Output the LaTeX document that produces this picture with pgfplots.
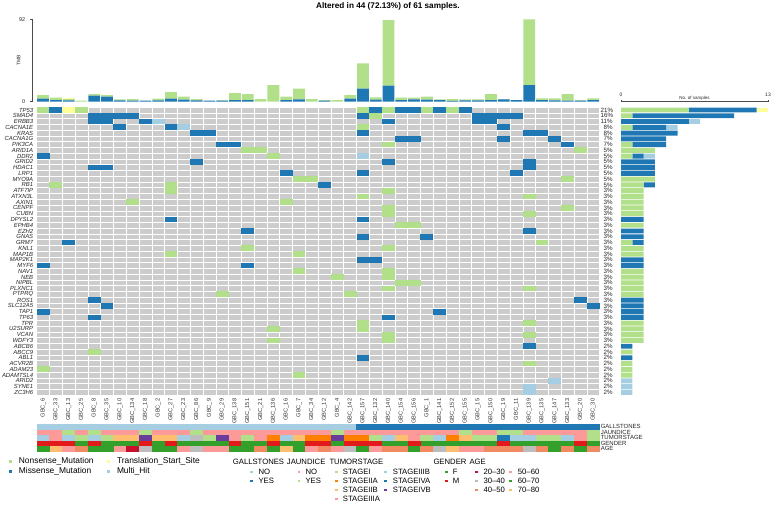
\documentclass[border=0pt]{standalone}
\usepackage{pgfplots}
\pgfplotsset{compat=1.18}
\usepackage{pgfplotstable}
\usepackage{fontspec}
\setmainfont{Liberation Sans}

\definecolor{ongrey}{HTML}{CCCCCC}
\definecolor{nons}{HTML}{B2DF8A}
\definecolor{mis}{HTML}{1F78B4}
\definecolor{tss}{HTML}{FFFF99}
\definecolor{mhit}{HTML}{A6CEE3}
\definecolor{pinkc}{HTML}{FB9A99}
\definecolor{orangec}{HTML}{FF7F00}
\definecolor{lorange}{HTML}{FDBF6F}
\definecolor{purplec}{HTML}{6A3D9A}
\definecolor{greyc}{HTML}{BDBDBD}
\definecolor{greenc}{HTML}{33A02C}
\definecolor{redc}{HTML}{E31A1C}
\definecolor{darkred}{HTML}{C8102E}
\definecolor{salmon}{HTML}{EF8A62}

\pgfdeclareplotmark{gcell}{\pgfpathrectangle{\pgfpoint{-6.42pt}{-2.89pt}}{\pgfpoint{12.84pt}{5.78pt}}\pgfusepathqfill}
\pgfdeclareplotmark{acell}{\pgfpathrectangle{\pgfpoint{-6.45pt}{-2.8pt}}{\pgfpoint{12.9pt}{5.6pt}}\pgfusepathqfill}

\pgfplotstableread{
x B G Y
0.5 3.4 4.1 0
1.5 1.9 2.6 0
2.5 1.5 1.5 1.5
3.5 0 1.1 0
4.5 6.7 1.9 0
5.5 5.6 1.9 0
6.5 1.5 1.1 0
7.5 1.1 1.9 0
8.5 1.1 0 0
9.5 1.5 1.9 0
10.5 3.4 7.4 0
11.5 2.2 3.4 0
12.5 1.5 1.5 0
13.5 1.1 0 0
14.5 1.1 0.8 0
15.5 1.9 7.8 0
16.5 1.9 6.7 0
17.5 0 3 0
18.5 0 18.7 0
19.5 1.9 3.7 0
20.5 2.6 12 0
21.5 0 3 0
22.5 1.1 0.8 0
23.5 0 1.9 0
24.5 3.4 4.1 0
25.5 14.6 28.4 0
26.5 2.2 2.7 0
27.5 18 73.6 0
28.5 1.9 2.6 0
29.5 2.6 1.9 0
30.5 2.2 3.4 0
31.5 1.9 0.7 0
32.5 0.8 2.2 0
33.5 1.5 1.1 0
34.5 1.5 1.1 0
35.5 1.9 6.7 0
36.5 2.6 0.4 0
37.5 1.9 0 0
38.5 18.7 73.7 0
39.5 1.9 1.8 0
40.5 1.5 2.2 0
41.5 1.1 7.5 0
42.5 1.1 0.8 0
43.5 1.9 1.8 0
}\tmbtab

\pgfplotstableread{
y N M T H
49.5 6 6 1 0
48.5 1 9 0 0
47.5 0 6 0 1
46.5 1 3 0 1
45.5 0 5 0 0
44.5 0 4 0 0
43.5 1 3 0 0
42.5 3 0 0 0
41.5 1 1 0 1
40.5 0 3 0 0
39.5 0 3 0 0
38.5 0 3 0 0
37.5 3 0 0 0
36.5 2 1 0 0
35.5 2 0 0 0
34.5 2 0 0 0
33.5 2 0 0 0
32.5 2 0 0 0
31.5 2 0 0 0
30.5 0 2 0 0
29.5 2 0 0 0
28.5 0 2 0 0
27.5 0 2 0 0
26.5 1 1 0 0
25.5 2 0 0 0
24.5 2 0 0 0
23.5 0 2 0 0
22.5 0 2 0 0
21.5 2 0 0 0
20.5 2 0 0 0
19.5 2 0 0 0
18.5 2 0 0 0
17.5 2 0 0 0
16.5 0 2 0 0
15.5 0 2 0 0
14.5 0 2 0 0
13.5 0 2 0 0
12.5 2 0 0 0
11.5 2 0 0 0
10.5 2 0 0 0
9.5 2 0 0 0
8.5 0 1 0 0
7.5 1 0 0 0
6.5 0 1 0 0
5.5 1 0 0 0
4.5 1 0 0 0
3.5 1 0 0 0
2.5 0 0 0 1
1.5 0 0 0 1
0.5 0 0 0 1
}\bartab

\begin{document}
\begin{tikzpicture}
\path[use as bounding box] (0pt,0pt) rectangle (775pt,504pt);

\node[font=\bfseries\fontsize{8.2}{9}\selectfont] at (388pt,497.5pt) {Altered in 44 (72.13\%) of 61 samples.};

% ---------- main oncoplot grid ----------
\begin{axis}[
  at={(36.7pt,108.8pt)}, anchor=south west, scale only axis,
  width=562.9pt, height=288.1pt,
  xmin=0, xmax=44, ymin=0, ymax=50,
  axis background/.style={fill=ongrey},
  axis line style={draw=none},
  axis on top,
  xtick={0.5,1.5,...,43.5},
  xticklabels={GBC\_6,GBC\_33,GBC\_13,GBC\_25,GBC\_8,GBC\_35,GBC\_10,GBC\_134,GBC\_18,GBC\_2,GBC\_27,GBC\_23,GBC\_86,GBC\_9,GBC\_29,GBC\_138,GBC\_151,GBC\_21,GBC\_136,GBC\_16,GBC\_7,GBC\_34,GBC\_12,GBC\_4,GBC\_142,GBC\_157,GBC\_132,GBC\_140,GBC\_154,GBC\_156,GBC\_1,GBC\_141,GBC\_152,GBC\_155,GBC\_15,GBC\_150,GBC\_19,GBC\_11,GBC\_139,GBC\_135,GBC\_147,GBC\_133,GBC\_20,GBC\_30},
  xticklabel style={rotate=90, anchor=east, font=\fontsize{5.7}{6}\selectfont, text=black!80},
  ytick={0.5,1.5,...,49.5},
  yticklabels={ZC3H6,SYNE1,ARID2,ADAMTSL4,ADAM23,ACVR2B,ABL1,ABCC9,ABCB6,WDFY3,VCAN,U2SURP,TPR,TP63,TAP1,SLC12A5,ROS1,PTPRQ,PLXNC1,NIPBL,NEB,NAV1,MYF6,MAP2K1,MAP1B,KNL1,GRM7,GNAS,EZH2,EPHB4,DPYSL2,CUBN,CENPF,AXIN1,ATXN3L,ATF7IP,RB1,MYO9A,LRP1,HDAC1,GRID2,DDR2,ARID1A,PIK3CA,CACNA1G,KRAS,CACNA1E,ERBB3,SMAD4,TP53},
  yticklabel style={font=\fontsize{5.9}{6}\selectfont\itshape, text=black!85},
  minor xtick={0,1,...,44}, minor ytick={0,1,...,50},
  xminorgrids, yminorgrids,
  minor grid style={white, line width=0.6pt},
  major tick length=0pt, minor tick length=0pt,
]
% Nonsense_Mutation
\addplot[only marks, mark=gcell, nons] coordinates {
(0.5,49.5)(3.5,49.5)(25.5,49.5)(27.5,49.5)(30.5,49.5)(32.5,49.5)
(26.5,48.5)(25.5,46.5)(27.5,43.5)
(16.5,42.5)(17.5,42.5)(42.5,42.5)
(18.5,41.5)
(20.5,37.5)(21.5,37.5)(41.5,37.5)
(1.5,36.5)(10.5,36.5)
(10.5,35.5)(27.5,35.5)
(25.5,34.5)(38.5,34.5)
(7.5,33.5)(19.5,33.5)
(27.5,32.5)(41.5,32.5)
(27.5,31.5)(38.5,31.5)
(28.5,29.5)(29.5,29.5)
(39.5,26.5)
(16.5,25.5)(27.5,25.5)
(10.5,24.5)(20.5,24.5)
(20.5,21.5)(27.5,21.5)
(23.5,20.5)(27.5,20.5)
(28.5,19.5)(29.5,19.5)
(27.5,18.5)(38.5,18.5)
(14.5,17.5)(24.5,17.5)
(25.5,12.5)(38.5,12.5)
(18.5,11.5)(25.5,11.5)
(27.5,10.5)(38.5,10.5)
(18.5,9.5)(27.5,9.5)
(4.5,7.5)(38.5,5.5)(0.5,4.5)(20.5,3.5)
};
% Missense_Mutation
\addplot[only marks, mark=gcell, mis] coordinates {
(1.5,49.5)(26.5,49.5)(28.5,49.5)(29.5,49.5)(31.5,49.5)(33.5,49.5)
(4.5,48.5)(5.5,48.5)(6.5,48.5)(7.5,48.5)(25.5,48.5)(34.5,48.5)(35.5,48.5)(36.5,48.5)(37.5,48.5)
(4.5,47.5)(5.5,47.5)(8.5,47.5)(27.5,47.5)(34.5,47.5)(35.5,47.5)
(6.5,46.5)(10.5,46.5)(36.5,46.5)
(12.5,45.5)(13.5,45.5)(25.5,45.5)(38.5,45.5)(39.5,45.5)
(28.5,44.5)(29.5,44.5)(36.5,44.5)(40.5,44.5)
(14.5,43.5)(15.5,43.5)(41.5,43.5)
(0.5,41.5)
(12.5,40.5)(27.5,40.5)(38.5,40.5)
(4.5,39.5)(5.5,39.5)(38.5,39.5)
(19.5,38.5)(25.5,38.5)(37.5,38.5)
(22.5,36.5)
(10.5,30.5)(25.5,30.5)
(16.5,28.5)(38.5,28.5)
(25.5,27.5)(30.5,27.5)
(2.5,26.5)
(25.5,23.5)(26.5,23.5)
(0.5,22.5)(16.5,22.5)
(4.5,16.5)(42.5,16.5)
(5.5,15.5)(43.5,15.5)
(0.5,14.5)(31.5,14.5)
(4.5,13.5)(27.5,13.5)
(38.5,8.5)(25.5,6.5)
};
% Multi_Hit
\addplot[only marks, mark=gcell, mhit] coordinates {
(9.5,47.5)(11.5,46.5)(25.5,41.5)(40.5,2.5)(38.5,1.5)(38.5,0.5)
};
% Translation_Start_Site
\addplot[only marks, mark=gcell, tss] coordinates {(2.5,49.5)};
\end{axis}

% ---------- percentages ----------
\begin{axis}[
  at={(36.7pt,108.8pt)}, anchor=south west, scale only axis,
  width=562.9pt, height=288.1pt,
  xmin=0, xmax=44, ymin=0, ymax=50,
  axis line style={draw=none}, xtick=\empty,
  major tick length=0pt,
  yticklabel pos=right,
  ytick={0.5,1.5,...,49.5},
  yticklabels={2\%,2\%,2\%,2\%,2\%,2\%,2\%,2\%,2\%,3\%,3\%,3\%,3\%,3\%,3\%,3\%,3\%,3\%,3\%,3\%,3\%,3\%,3\%,3\%,3\%,3\%,3\%,3\%,3\%,3\%,3\%,3\%,3\%,3\%,3\%,3\%,5\%,5\%,5\%,5\%,5\%,5\%,5\%,7\%,7\%,8\%,8\%,11\%,16\%,21\%},
  yticklabel style={anchor=west, text width=12pt, align=right, inner xsep=0.8pt, font=\fontsize{6.2}{6.5}\selectfont, text=black!85},
]
\end{axis}

% ---------- TMB bars ----------
\begin{axis}[
  at={(32.7pt,402.3pt)}, anchor=south west, scale only axis,
  width=566.9pt, height=82pt,
  xmin=-0.3127, xmax=44, ymin=0, ymax=92,
  ybar stacked, bar width=0.92,
  axis x line=none, axis y line*=left,
  axis line style={-, black!70, line width=0.5pt},
  ytick={0,92}, tick align=outside, major tick length=2.5pt,
  tick style={black!70, line width=0.5pt},
  yticklabel style={font=\fontsize{5.5}{6}\selectfont, xshift=-1.5pt, text=black!85},
  /pgf/number format/assume math mode=true,
  ylabel={TMB},
  ylabel style={at={(axis description cs:-0.0247,0.5)}, anchor=center, font=\fontsize{5}{6}\selectfont, text=black!85},
]
\addplot[fill=mis, draw=none] table[x=x, y=B] {\tmbtab};
\addplot[fill=nons, draw=none] table[x=x, y=G] {\tmbtab};
\addplot[fill=tss, draw=none] table[x=x, y=Y] {\tmbtab};
\end{axis}

% ---------- right bar chart ----------
\begin{axis}[
  at={(621pt,108.8pt)}, anchor=south west, scale only axis,
  width=147pt, height=293.5pt,
  xmin=0, xmax=13, ymin=0, ymax=50.94,
  xbar stacked, bar width=0.86,
  axis x line*=top, axis y line=none,
  axis line style={-, black!70, line width=0.5pt},
  xtick={0,13}, ytick=\empty,
  tick align=outside, major tick length=2pt,
  tick style={black!70, line width=0.5pt},
  xticklabel style={font=\fontsize{5}{6}\selectfont, text=black!85},
  /pgf/number format/assume math mode=true,
  xlabel={No. of samples},
  xlabel style={at={(axis description cs:0.5,1)}, anchor=south, font=\fontsize{4.5}{5}\selectfont, inner sep=0.8pt, text=black!85},
]
\addplot[fill=nons, draw=none] table[x=N, y=y] {\bartab};
\addplot[fill=mis, draw=none] table[x=M, y=y] {\bartab};
\addplot[fill=tss, draw=none] table[x=T, y=y] {\bartab};
\addplot[fill=mhit, draw=none] table[x=H, y=y] {\bartab};
\end{axis}

% ---------- annotation tracks ----------
\begin{axis}[
  at={(36.7pt,52.3pt)}, anchor=south west, scale only axis,
  width=562.9pt, height=27.7pt,
  xmin=0, xmax=44, ymin=0, ymax=5,
  axis line style={draw=none}, xtick=\empty,
  major tick length=0pt,
  yticklabel pos=right,
  ytick={0.5,1.5,2.5,3.5,4.5},
  yticklabels={AGE,GENDER,TUMORSTAGE,JAUNDICE,GALLSTONES},
  yticklabel style={anchor=west, inner xsep=1pt, font=\fontsize{6}{6}\selectfont, text=black!85},
]
\addplot[only marks, mark=acell, mhit] coordinates {
(0.5,4.5)(1.5,4.5)(2.5,4.5)(3.5,4.5)(4.5,4.5)(5.5,4.5)(6.5,4.5)(7.5,4.5)(8.5,4.5)(9.5,4.5)(10.5,4.5)(11.5,4.5)(12.5,4.5)(13.5,4.5)(14.5,4.5)(15.5,4.5)(16.5,4.5)(17.5,4.5)(18.5,4.5)(19.5,4.5)(20.5,4.5)(21.5,4.5)(22.5,4.5)(23.5,4.5)(24.5,4.5)
(0.5,2.5)(2.5,2.5)(4.5,2.5)(11.5,2.5)(19.5,2.5)(27.5,2.5)(31.5,2.5)(37.5,2.5)(38.5,2.5)(41.5,2.5)
};
\addplot[only marks, mark=acell, mis] coordinates {
(25.5,4.5)(26.5,4.5)(27.5,4.5)(28.5,4.5)(29.5,4.5)(30.5,4.5)(31.5,4.5)(32.5,4.5)(33.5,4.5)(34.5,4.5)(35.5,4.5)(36.5,4.5)(37.5,4.5)(38.5,4.5)(39.5,4.5)(40.5,4.5)(41.5,4.5)(42.5,4.5)(43.5,4.5)
(36.5,2.5)
};
\addplot[only marks, mark=acell, pinkc] coordinates {
(0.5,3.5)(1.5,3.5)(3.5,3.5)(5.5,3.5)(6.5,3.5)(7.5,3.5)(9.5,3.5)(10.5,3.5)(11.5,3.5)(13.5,3.5)(14.5,3.5)(15.5,3.5)(16.5,3.5)(17.5,3.5)(18.5,3.5)(19.5,3.5)(20.5,3.5)(21.5,3.5)(22.5,3.5)(24.5,3.5)(25.5,3.5)(26.5,3.5)(27.5,3.5)(28.5,3.5)(29.5,3.5)(30.5,3.5)(31.5,3.5)(32.5,3.5)(34.5,3.5)(35.5,3.5)(38.5,3.5)(39.5,3.5)(40.5,3.5)(41.5,3.5)(42.5,3.5)
(1.5,2.5)(15.5,2.5)(17.5,2.5)(29.5,2.5)(42.5,2.5)
(2.5,0.5)(6.5,0.5)(11.5,0.5)(13.5,0.5)(14.5,0.5)(21.5,0.5)(23.5,0.5)(26.5,0.5)(33.5,0.5)(34.5,0.5)
};
\addplot[only marks, mark=acell, nons] coordinates {
(2.5,3.5)(4.5,3.5)(8.5,3.5)(12.5,3.5)(23.5,3.5)(33.5,3.5)(36.5,3.5)(37.5,3.5)(43.5,3.5)
(3.5,2.5)(5.5,2.5)(13.5,2.5)(16.5,2.5)(26.5,2.5)(30.5,2.5)(34.5,2.5)(35.5,2.5)(39.5,2.5)(40.5,2.5)(43.5,2.5)
};
\addplot[only marks, mark=acell, orangec] coordinates {
(18.5,2.5)(21.5,2.5)(22.5,2.5)(24.5,2.5)(25.5,2.5)(32.5,2.5)
};
\addplot[only marks, mark=acell, lorange] coordinates {
(6.5,2.5)(7.5,2.5)(9.5,2.5)(10.5,2.5)(20.5,2.5)(28.5,2.5)(33.5,2.5)
(1.5,0.5)(19.5,0.5)(32.5,0.5)
};
\addplot[only marks, mark=acell, purplec] coordinates {
(8.5,2.5)(14.5,2.5)(23.5,2.5)
};
\addplot[only marks, mark=acell, greyc] coordinates {
(12.5,2.5)
(8.5,0.5)(12.5,0.5)(24.5,0.5)(31.5,0.5)(38.5,0.5)
};
\addplot[only marks, mark=acell, greenc] coordinates {
(3.5,1.5)(5.5,1.5)(6.5,1.5)(7.5,1.5)(9.5,1.5)(11.5,1.5)(12.5,1.5)(13.5,1.5)(14.5,1.5)(16.5,1.5)(17.5,1.5)(19.5,1.5)(20.5,1.5)(23.5,1.5)(27.5,1.5)(28.5,1.5)(30.5,1.5)(31.5,1.5)(32.5,1.5)(33.5,1.5)(34.5,1.5)(35.5,1.5)(37.5,1.5)(38.5,1.5)(39.5,1.5)(40.5,1.5)(41.5,1.5)(43.5,1.5)
(0.5,0.5)(4.5,0.5)(5.5,0.5)(9.5,0.5)(10.5,0.5)(15.5,0.5)(16.5,0.5)(18.5,0.5)(20.5,0.5)(25.5,0.5)(29.5,0.5)(40.5,0.5)(42.5,0.5)
};
\addplot[only marks, mark=acell, redc] coordinates {
(0.5,1.5)(1.5,1.5)(2.5,1.5)(4.5,1.5)(8.5,1.5)(10.5,1.5)(15.5,1.5)(18.5,1.5)(21.5,1.5)(22.5,1.5)(24.5,1.5)(25.5,1.5)(26.5,1.5)(29.5,1.5)(36.5,1.5)(42.5,1.5)
};
\addplot[only marks, mark=acell, darkred] coordinates {(7.5,0.5)};
\addplot[only marks, mark=acell, salmon] coordinates {
(3.5,0.5)(17.5,0.5)(22.5,0.5)(27.5,0.5)(28.5,0.5)(30.5,0.5)(35.5,0.5)(36.5,0.5)(37.5,0.5)(39.5,0.5)(41.5,0.5)(43.5,0.5)
};
\end{axis}

% ---------- legends ----------
\begin{scope}[every node/.style={inner sep=0pt}]
\begin{scope}[font=\fontsize{8.4}{9}\selectfont]
\node[fill=nons, minimum size=3.3pt] at (10.7pt,42.3pt) {};
\node[anchor=west] at (18.7pt,42.3pt) {Nonsense\_Mutation};
\node[fill=mis, minimum size=3.3pt] at (10.7pt,32.3pt) {};
\node[anchor=west] at (18.7pt,32.3pt) {Missense\_Mutation};
\node[fill=tss, minimum size=3.3pt] at (108.8pt,42.3pt) {};
\node[anchor=west] at (116.8pt,42.3pt) {Translation\_Start\_Site};
\node[fill=mhit, minimum size=3.3pt] at (108.8pt,32.3pt) {};
\node[anchor=west] at (116.8pt,32.3pt) {Multi\_Hit};
\end{scope}
\begin{scope}[font=\fontsize{7.7}{8}\selectfont]
\node[anchor=west] at (232.7pt,42.5pt) {GALLSTONES};
\node[anchor=west] at (286.7pt,42.5pt) {JAUNDICE};
\node[anchor=west] at (329.3pt,42.5pt) {TUMORSTAGE};
\node[anchor=west] at (433.3pt,42.5pt) {GENDER};
\node[anchor=west] at (469.3pt,42.5pt) {AGE};
% gallstones
\node[fill=mhit, minimum size=2.7pt] at (251.3pt,32pt) {};
\node[anchor=west] at (258.3pt,32pt) {NO};
\node[fill=mis, minimum size=2.7pt] at (251.3pt,23pt) {};
\node[anchor=west] at (258.3pt,23pt) {YES};
% jaundice
\node[fill=pinkc, minimum size=2.7pt] at (299pt,32pt) {};
\node[anchor=west] at (305.3pt,32pt) {NO};
\node[fill=nons, minimum size=2.7pt] at (299pt,23pt) {};
\node[anchor=west] at (305.3pt,23pt) {YES};
% tumor stage
\node[fill=nons, minimum size=2.7pt] at (336.5pt,32pt) {};
\node[anchor=west] at (342.7pt,32pt) {STAGEI};
\node[fill=orangec, minimum size=2.7pt] at (336.5pt,23pt) {};
\node[anchor=west] at (342.7pt,23pt) {STAGEIIA};
\node[fill=lorange, minimum size=2.7pt] at (336.5pt,14pt) {};
\node[anchor=west] at (342.7pt,14pt) {STAGEIIB};
\node[fill=pinkc, minimum size=2.7pt] at (336.5pt,5pt) {};
\node[anchor=west] at (342.7pt,5pt) {STAGEIIIA};
\node[fill=mhit, minimum size=2.7pt] at (385.5pt,32pt) {};
\node[anchor=west] at (392.7pt,32pt) {STAGEIIIB};
\node[fill=mis, minimum size=2.7pt] at (385.5pt,23pt) {};
\node[anchor=west] at (392.7pt,23pt) {STAGEIVA};
\node[fill=purplec, minimum size=2.7pt] at (385.5pt,14pt) {};
\node[anchor=west] at (392.7pt,14pt) {STAGEIVB};
% gender
\node[fill=greenc, minimum size=2.7pt] at (446.5pt,32pt) {};
\node[anchor=west] at (452.7pt,32pt) {F};
\node[fill=redc, minimum size=2.7pt] at (446.5pt,23pt) {};
\node[anchor=west] at (452.7pt,23pt) {M};
% age
\node[fill=darkred, minimum size=2.7pt] at (476.3pt,32pt) {};
\node[anchor=west] at (483.3pt,32pt) {20\textendash30};
\node[fill=greyc, minimum size=2.7pt] at (476.3pt,23pt) {};
\node[anchor=west] at (483.3pt,23pt) {30\textendash40};
\node[fill=salmon, minimum size=2.7pt] at (476.3pt,14pt) {};
\node[anchor=west] at (483.3pt,14pt) {40\textendash50};
\node[fill=pinkc, minimum size=2.7pt] at (510.5pt,32pt) {};
\node[anchor=west] at (517.7pt,32pt) {50\textendash60};
\node[fill=greenc, minimum size=2.7pt] at (510.5pt,23pt) {};
\node[anchor=west] at (517.7pt,23pt) {60\textendash70};
\node[fill=lorange, minimum size=2.7pt] at (510.5pt,14pt) {};
\node[anchor=west] at (517.7pt,14pt) {70\textendash80};
\end{scope}
\end{scope}
\end{tikzpicture}
\end{document}
